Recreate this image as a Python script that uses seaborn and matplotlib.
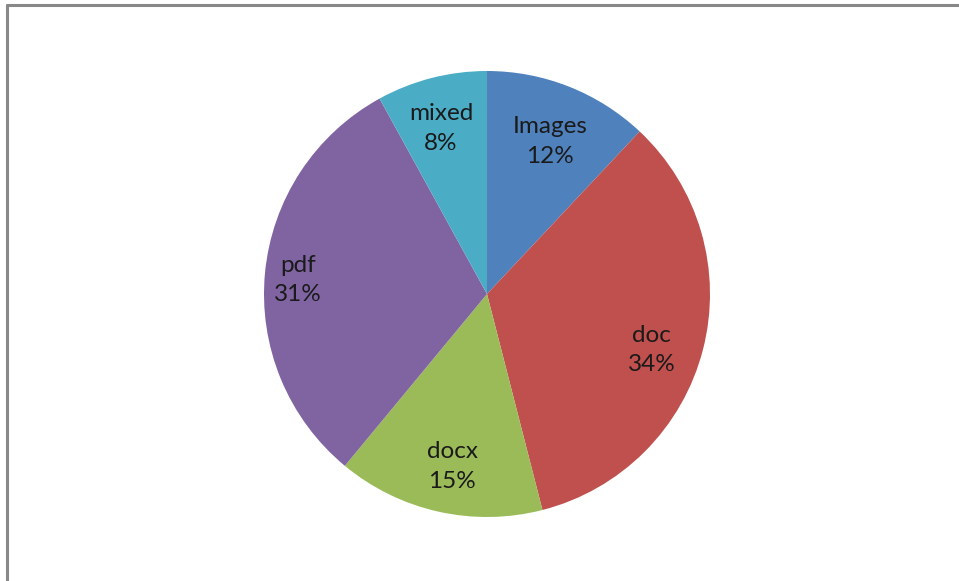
import matplotlib
matplotlib.use("Agg")
import numpy as np
import matplotlib.pyplot as plt
from matplotlib.lines import Line2D
import seaborn as sns

# data
categories = ['Images', 'doc', 'docx', 'pdf', 'mixed']
shares = [12, 34, 15, 31, 8]
colors = ['#4F81BD', '#C0504D', '#9BBB59', '#8064A2', '#4BACC6']

# label placement: distance from centre (fraction of radius) and a small angle nudge (deg)
label_dist = [0.74, 0.78, 0.79, 0.85, 0.77]
label_nudge = [-1.0, -4.3, 1.2, 1.1, 1.1]

sns.set_theme(style="white")
plt.rcParams['font.family'] = ['Lato', 'DejaVu Sans']

fig = plt.figure(figsize=(9.59, 5.81), dpi=100)
fig.patch.set_facecolor('white')

# square axes, centre of pie at about (487, 294) px, radius ~223 px
W, H = 959, 581
cx, cy, r = 487, 294, 223
ax = fig.add_axes([(cx - r) / W, (H - cy - r) / H, 2 * r / W, 2 * r / H])

wedges, texts, autotexts = ax.pie(
    shares,
    colors=colors,
    startangle=90,
    counterclock=False,
    autopct=lambda p: '',
    pctdistance=0.78,
    wedgeprops=dict(linewidth=0),
)

# put "name\nNN%" inside each slice
for w, at, name, val, d, nudge in zip(wedges, autotexts, categories, shares,
                                      label_dist, label_nudge):
    mid = np.deg2rad((w.theta1 + w.theta2) / 2 + nudge)
    at.set_position((d * np.cos(mid), d * np.sin(mid)))
    at.set_text(f'{name}\n{val}%')
    at.set_fontsize(17.5)
    at.set_color('#1a1a1a')
    at.set_linespacing(1.5)

ax.set_xlim(-1, 1)
ax.set_ylim(-1, 1)
ax.set_aspect('equal')
ax.axis('off')

# grey chart frame (top and left edges visible in the crop)
fig.add_artist(Line2D([7 / W, 1], [1 - 5 / H, 1 - 5 / H], transform=fig.transFigure,
                      color='#888888', linewidth=2.2))
fig.add_artist(Line2D([7 / W, 7 / W], [0, 1 - 5 / H], transform=fig.transFigure,
                      color='#888888', linewidth=2.2))

fig.savefig('out.png', dpi=100)
